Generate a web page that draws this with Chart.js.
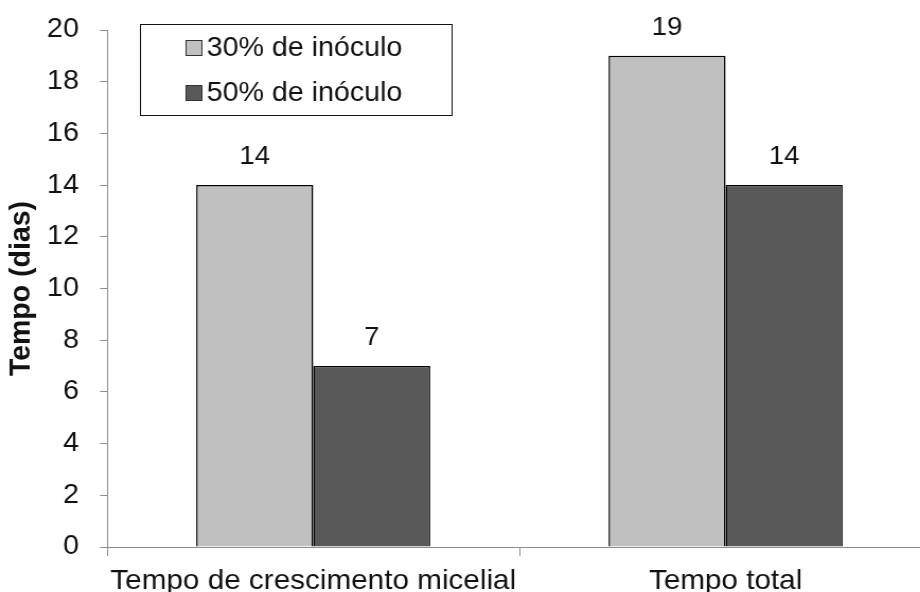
<!DOCTYPE html>
<html>
<head>
    <meta http-equiv="Content-Type" content="text/html; charset=UTF-8">
    <title>Tempo de crescimento</title>
    <script src="https://cdn.jsdelivr.net/npm/chart.js@4.4.1/dist/chart.umd.min.js"></script>
    <style>
        html, body { margin: 0; padding: 0; overflow: hidden; background: #fff; }
        /* o grafico e desenhado um pouco mais estreito e esticado na horizontal */
        #grafico { display: block; transform: scaleX(1.06); transform-origin: 0 0; }
    </style>
</head>
<body>
    <canvas id="grafico" width="879" height="592"></canvas>

    <script>
        // dados
        const categorias = ["Tempo de crescimento micelial", "Tempo total"];
        const inoculo30 = [14, 19];
        const inoculo50 = [7, 14];
        const nomesSeries = ["30% de inóculo", "50% de inóculo"];
        const ticksY = [0, 2, 4, 6, 8, 10, 12, 14, 16, 18, 20];

        const fonte = "'Liberation Sans', Arial, sans-serif";

        // valores acima das barras
        const rotulos = {
            id: 'rotulos',
            afterDatasetsDraw(chart) {
                const ctx = chart.ctx;
                ctx.save();
                ctx.font = '26px ' + fonte;
                ctx.fillStyle = '#111';
                ctx.textAlign = 'center';
                ctx.textBaseline = 'middle';
                chart.data.datasets.forEach((ds, i) => {
                    chart.getDatasetMeta(i).data.forEach((bar, j) => {
                        ctx.fillText(ds.data[j], bar.x, bar.y - 28);
                    });
                });
                ctx.restore();
            }
        };

        // legenda com moldura dentro da area do grafico
        const legenda = {
            id: 'legenda',
            afterDraw(chart) {
                const ctx = chart.ctx;
                ctx.save();
                ctx.strokeStyle = '#111';
                ctx.lineWidth = 1;
                ctx.strokeRect(132.5, 24.5, 294, 91);
                ctx.font = '27px ' + fonte;
                ctx.textBaseline = 'middle';
                chart.data.datasets.forEach((ds, i) => {
                    const y = 48 + i * 45;
                    ctx.fillStyle = ds.backgroundColor;
                    ctx.fillRect(175, y - 8, 16, 16);
                    ctx.strokeStyle = '#333';
                    ctx.strokeRect(175.5, y - 7.5, 15, 15);
                    ctx.fillStyle = '#111';
                    ctx.fillText(ds.label, 195, y + 1);
                });
                ctx.restore();
            }
        };

        const ctx = document.getElementById('grafico');
        new Chart(ctx, {
            type: 'bar',
            data: {
                labels: categorias,
                datasets: [{
                    label: nomesSeries[0],
                    data: inoculo30,
                    backgroundColor: '#c0c0c0',
                    borderColor: '#000',
                    borderWidth: 1.5
                }, {
                    label: nomesSeries[1],
                    data: inoculo50,
                    backgroundColor: '#595959',
                    borderColor: '#000',
                    borderWidth: 1.5
                }]
            },
            options: {
                responsive: false,
                animation: false,
                devicePixelRatio: 1,
                categoryPercentage: 0.5676,
                barPercentage: 1,
                layout: { padding: { top: 30, right: 0, bottom: 0, left: 0 } },
                plugins: {
                    legend: { display: false },
                    tooltip: { enabled: false }
                },
                scales: {
                    x: {
                        afterFit(scale) { scale.height = 45; },
                        grid: {
                            offset: true,
                            drawOnChartArea: false,
                            drawTicks: true,
                            tickLength: 9,
                            color: '#8c8c8c'
                        },
                        border: { color: '#8c8c8c', width: 1 },
                        ticks: {
                            color: '#111',
                            padding: 8,
                            maxRotation: 0,
                            font: { family: fonte, size: 28 }
                        }
                    },
                    y: {
                        min: 0,
                        max: 20,
                        afterFit(scale) {
                            scale.width = 101;
                            scale.paddingTop = 0;
                            scale.paddingBottom = 0;
                        },
                        afterBuildTicks(scale) { scale.ticks = ticksY.map(v => ({ value: v })); },
                        grid: {
                            drawOnChartArea: false,
                            drawTicks: true,
                            tickLength: 6.6,
                            color: '#8c8c8c'
                        },
                        border: { color: '#8c8c8c', width: 1 },
                        ticks: {
                            color: '#111',
                            padding: 20,
                            font: { family: fonte, size: 27 }
                        },
                        title: {
                            display: true,
                            text: 'Tempo (dias)',
                            color: '#111',
                            padding: { top: 3, bottom: 0 },
                            font: { family: fonte, size: 28.5, weight: 'bold' }
                        }
                    }
                }
            },
            plugins: [rotulos, legenda]
        });
    </script>
</body>
</html>
